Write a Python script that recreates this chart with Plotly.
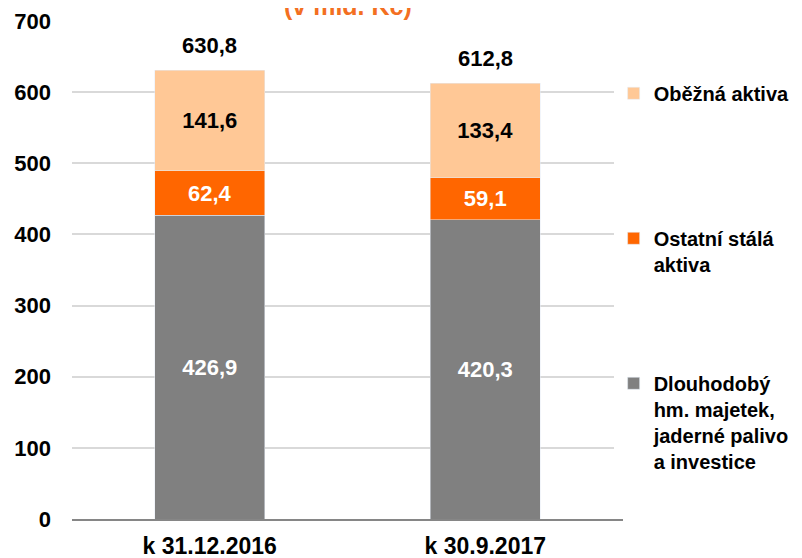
import plotly.graph_objects as go

# data
categories = ['k 31.12.2016', 'k 30.9.2017']
dlouhodoby = [426.9, 420.3]
ostatni = [62.4, 59.1]
obezna = [141.6, 133.4]
totals = [630.8, 612.8]
y_ticks = [0, 100, 200, 300, 400, 500, 600, 700]


def cz(values):
    # desetinná čárka
    return [f"{v:.1f}".replace('.', ',') for v in values]


font_name = 'Liberation Sans, Arial, sans-serif'
pad = '\u00a0'


def bold(size, color='black'):
    return dict(family=font_name, size=size, color=color, weight='bold')


fig = go.Figure()

fig.add_trace(go.Bar(
    x=categories, y=dlouhodoby,
    name='Dlouhodobý<br>hm. majetek,<br>jaderné palivo<br>a investice',
    marker_color='#808080',
    text=cz(dlouhodoby),
    textposition='inside', insidetextanchor='middle',
    textfont=bold(22, 'white'),
    constraintext='none', legendgroup='a', legendrank=3))

fig.add_trace(go.Bar(
    x=categories, y=ostatni,
    name='Ostatní stálá<br>aktiva',
    marker_color='#FF6600',
    text=cz(ostatni),
    textposition='inside', insidetextanchor='middle',
    textfont=bold(22, 'white'),
    constraintext='none', legendgroup='b', legendrank=2))

fig.add_trace(go.Bar(
    x=categories, y=obezna,
    name='Oběžná aktiva<br>' + pad,
    marker_color='#FFC896',
    text=cz(obezna),
    textposition='inside', insidetextanchor='middle',
    textfont=bold(22, 'black'),
    constraintext='none', legendgroup='c', legendrank=1))

# součty nad sloupci
for cat, tot, txt in zip(categories, totals, cz(totals)):
    fig.add_annotation(x=cat, y=tot, text=txt, showarrow=False,
                       xanchor='center', yanchor='bottom', yshift=10,
                       font=bold(22))

fig.add_annotation(
    text='(v mld. Kč)', xref='paper', yref='paper', x=0.5, y=1,
    xanchor='center', yanchor='bottom', yshift=-1, showarrow=False,
    font=bold(25, '#F36F21'))

# stránka má okraj 8 px, proto 794x550
fig.update_layout(
    width=794, height=550,
    barmode='stack', bargap=0.6,
    plot_bgcolor='white', paper_bgcolor='white',
    margin=dict(l=64, r=179, t=13, b=39, autoexpand=False),
    font=dict(family=font_name, color='black'),
    legend=dict(x=0.983, y=0.894, xanchor='left', yanchor='top',
                traceorder='grouped', tracegroupgap=90,
                valign='top', font=bold(20)),
    showlegend=True,
)

fig.update_yaxes(
    range=[0, 700], tickvals=y_ticks, showgrid=True,
    gridcolor='#D9D9D9', gridwidth=2, zeroline=False, showline=False,
    tickfont=bold(22), ticklabelstandoff=20, automargin=False)

fig.update_xaxes(
    showline=True, linecolor='#868686', linewidth=2,
    tickfont=bold(23), ticklabelstandoff=5, automargin=False)

fig.write_html('out.html')
